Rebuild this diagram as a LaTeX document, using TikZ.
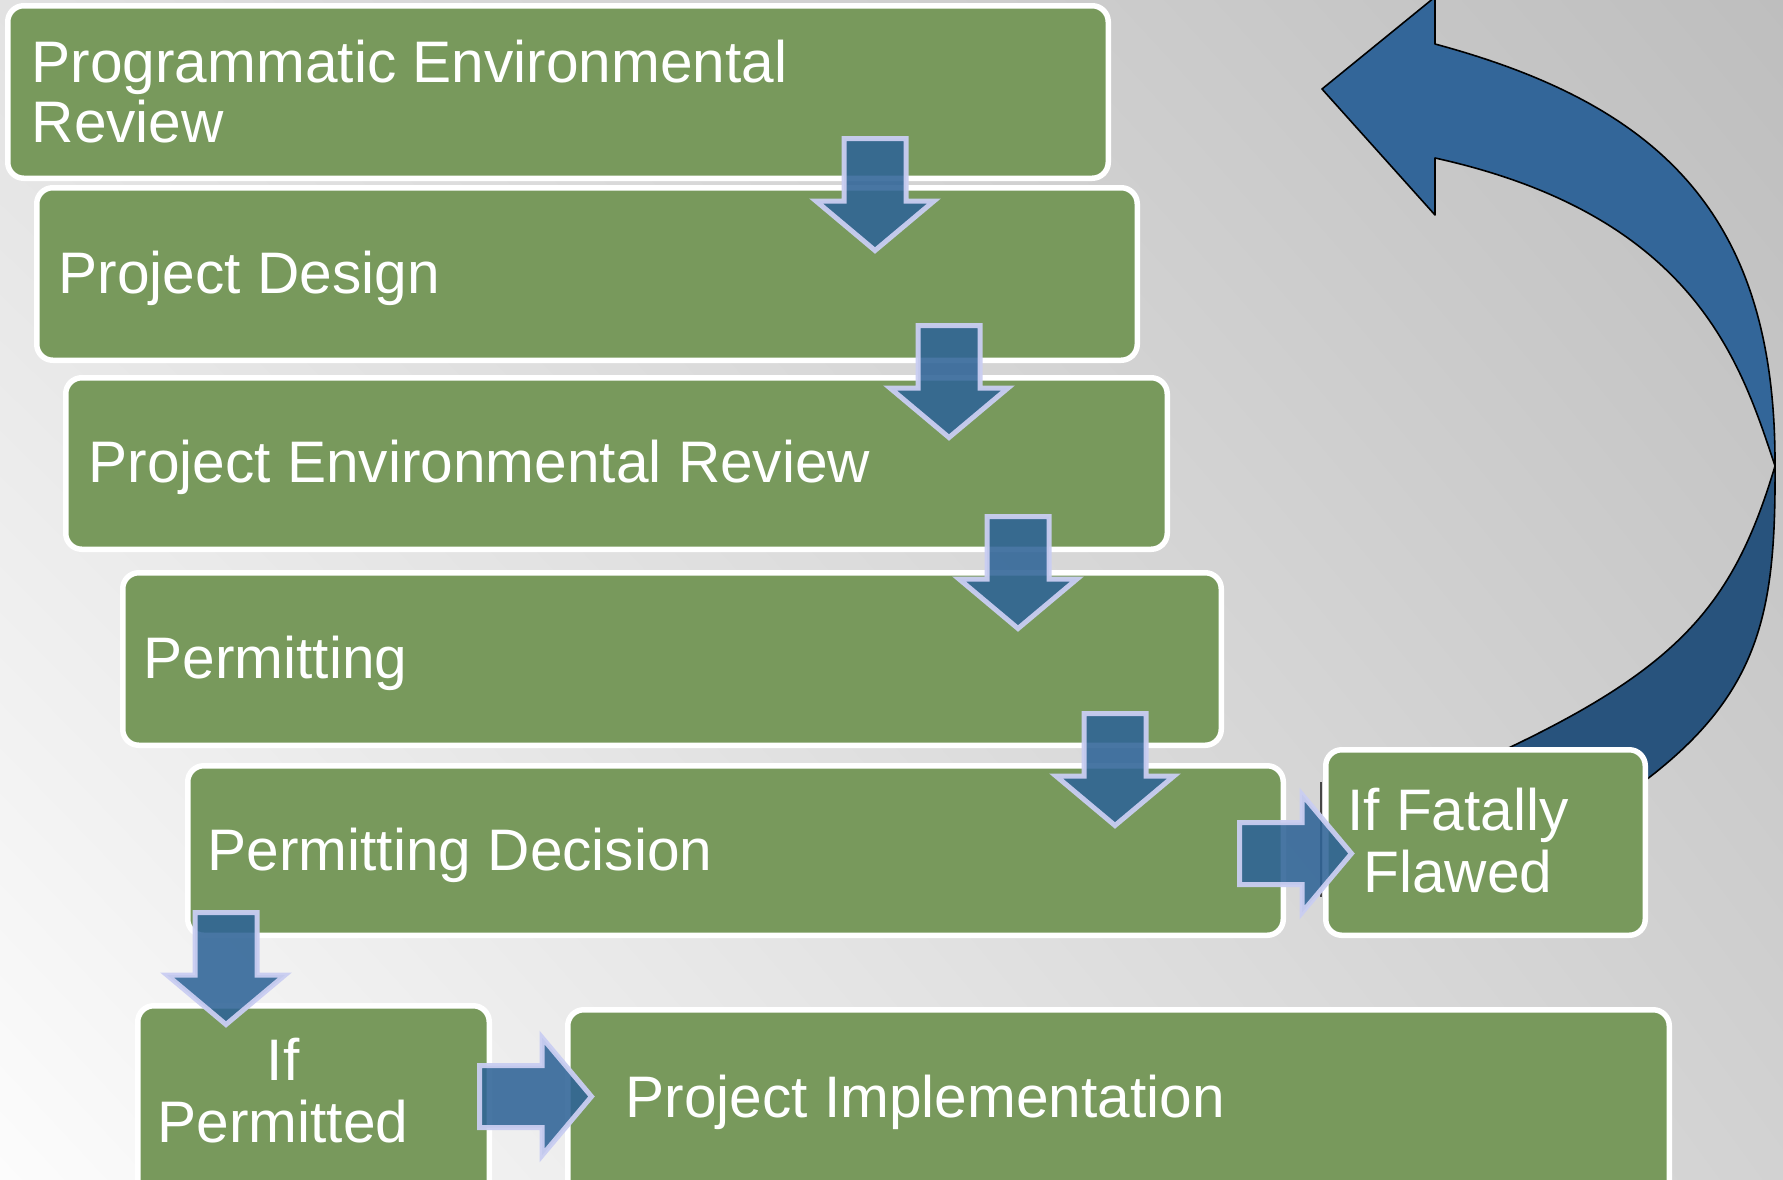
\documentclass[tikz,border=0pt]{standalone}
\usepackage{fontspec}
\setmainfont{Liberation Sans}
\usetikzlibrary{shadings}
\definecolor{boxgreen}{RGB}{120,153,92}
\definecolor{arrowblue}{RGB}{47,100,151}
\definecolor{arrowedge}{RGB}{202,206,242}
\definecolor{curvelight}{RGB}{51,102,153}
\definecolor{curvedark}{RGB}{40,83,125}
\definecolor{strayline}{RGB}{70,70,70}
\definecolor{bgUL}{RGB}{226,226,226}
\definecolor{bgUR}{RGB}{190,190,190}
\definecolor{bgLL}{RGB}{252,252,252}
\definecolor{bgLR}{RGB}{210,210,210}
\begin{document}
\begin{tikzpicture}[x=1pt,y=-1pt,
  stagebox/.style={rectangle, draw=white, line width=5.5pt, fill=boxgreen, rounded corners=16pt, inner sep=0pt, outer sep=0pt, anchor=north west},
  lbl/.style={text=white, font=\fontsize{58.6}{62}\selectfont, inner sep=0pt, anchor=base west},
  blockarrow/.style={fill=arrowblue, fill opacity=0.88, draw=arrowedge, draw opacity=0.95, line width=5pt, line join=miter},
  downblock/.pic={\path[blockarrow] (-31,2.5) -- (31,2.5) -- (31,65) -- (59,65) -- (0,114.5) -- (-59,65) -- (-31,65) -- cycle;},
  rightblock/.pic={\path[blockarrow] (2.5,-31) -- (65,-31) -- (65,-59) -- (114.5,0) -- (65,59) -- (65,31) -- (2.5,31) -- cycle;},
  curveedge/.style={draw=black, line width=1.6pt, line join=round}
]
\useasboundingbox (0,0) rectangle (1783,1179);
\clip (0,0) rectangle (1783,1179);
\shade[upper left=bgUL, upper right=bgUR, lower left=bgLL, lower right=bgLR] (0,0) rectangle (1783,1179);

% curved return arrow: back (dark) band
\coordinate (cx) at (1775,466);
\path[fill=curvedark, curveedge] (cx) .. controls (1776,628) and (1757,711) .. (1600,812) -- (1500,752) .. controls (1681,667) and (1734,603) .. (cx) -- cycle;
% front (light) band with head
\path[fill=curvelight, curveedge] (1322,89) -- (1435,-3) -- (1435,44) .. controls (1660,104.6) and (1776,215) .. (cx) .. controls (1740.9,363.5) and (1695.6,215.4) .. (1435,158) -- (1435,215) -- cycle;

% boxes
\node[stagebox, minimum width=1100.5pt, minimum height=172.5pt] (b1) at (7.75,5.75) {};
\node[stagebox, minimum width=1100.5pt, minimum height=172.5pt] (b2) at (36.75,187.75) {};
\node[stagebox, minimum width=1101.5pt, minimum height=171.5pt] (b3) at (65.75,377.75) {};
\node[stagebox, minimum width=1098.5pt, minimum height=172.5pt] (b4) at (122.75,572.75) {};
\node[stagebox, minimum width=1095.5pt, minimum height=169.5pt] (b5) at (187.75,765.75) {};
\node[stagebox, minimum width=319.5pt, minimum height=185.5pt] (bF) at (1325.75,749.75) {};
\node[stagebox, minimum width=351.5pt, minimum height=250pt] (bP) at (137.75,1005.75) {};
\node[stagebox, minimum width=1101.5pt, minimum height=250pt] (bI) at (567.75,1009.75) {};

\draw[line width=2pt, strayline] (1321,782) -- (1321,897);

% labels
\node[lbl, font=\fontsize{58.6}{60}\selectfont] (t1) at (31.5,82) {\begin{tabular}[t]{@{}l@{}}Programmatic Environmental\\Review\end{tabular}};
\node[lbl] (t2) at (58.5,293) {Project Design};
\node[lbl] (t3) at (88.5,482) {Project Environmental Review};
\node[lbl] (t4) at (143.5,678) {Permitting};
\node[lbl] (t5) at (207.5,870) {Permitting Decision};
\node[lbl, anchor=base] (t6) at (1458,830) {\begin{tabular}[t]{@{}c@{}}If Fatally\\Flawed\end{tabular}};
\node[lbl, anchor=base] (t7) at (283,1080) {\begin{tabular}[t]{@{}c@{}}If\\Permitted\end{tabular}};
\node[lbl] (t8) at (625.5,1117) {Project Implementation};

% block arrows
\pic (a1) at (875,136) {downblock};
\pic (a2) at (949,323) {downblock};
\pic (a3) at (1018,514) {downblock};
\pic (a4) at (1115,711) {downblock};
\pic (a5) at (226,910) {downblock};
\pic (a6) at (1237,853.5) {rightblock};
\pic (a7) at (477,1096.5) {rightblock};
\end{tikzpicture}
\end{document}
